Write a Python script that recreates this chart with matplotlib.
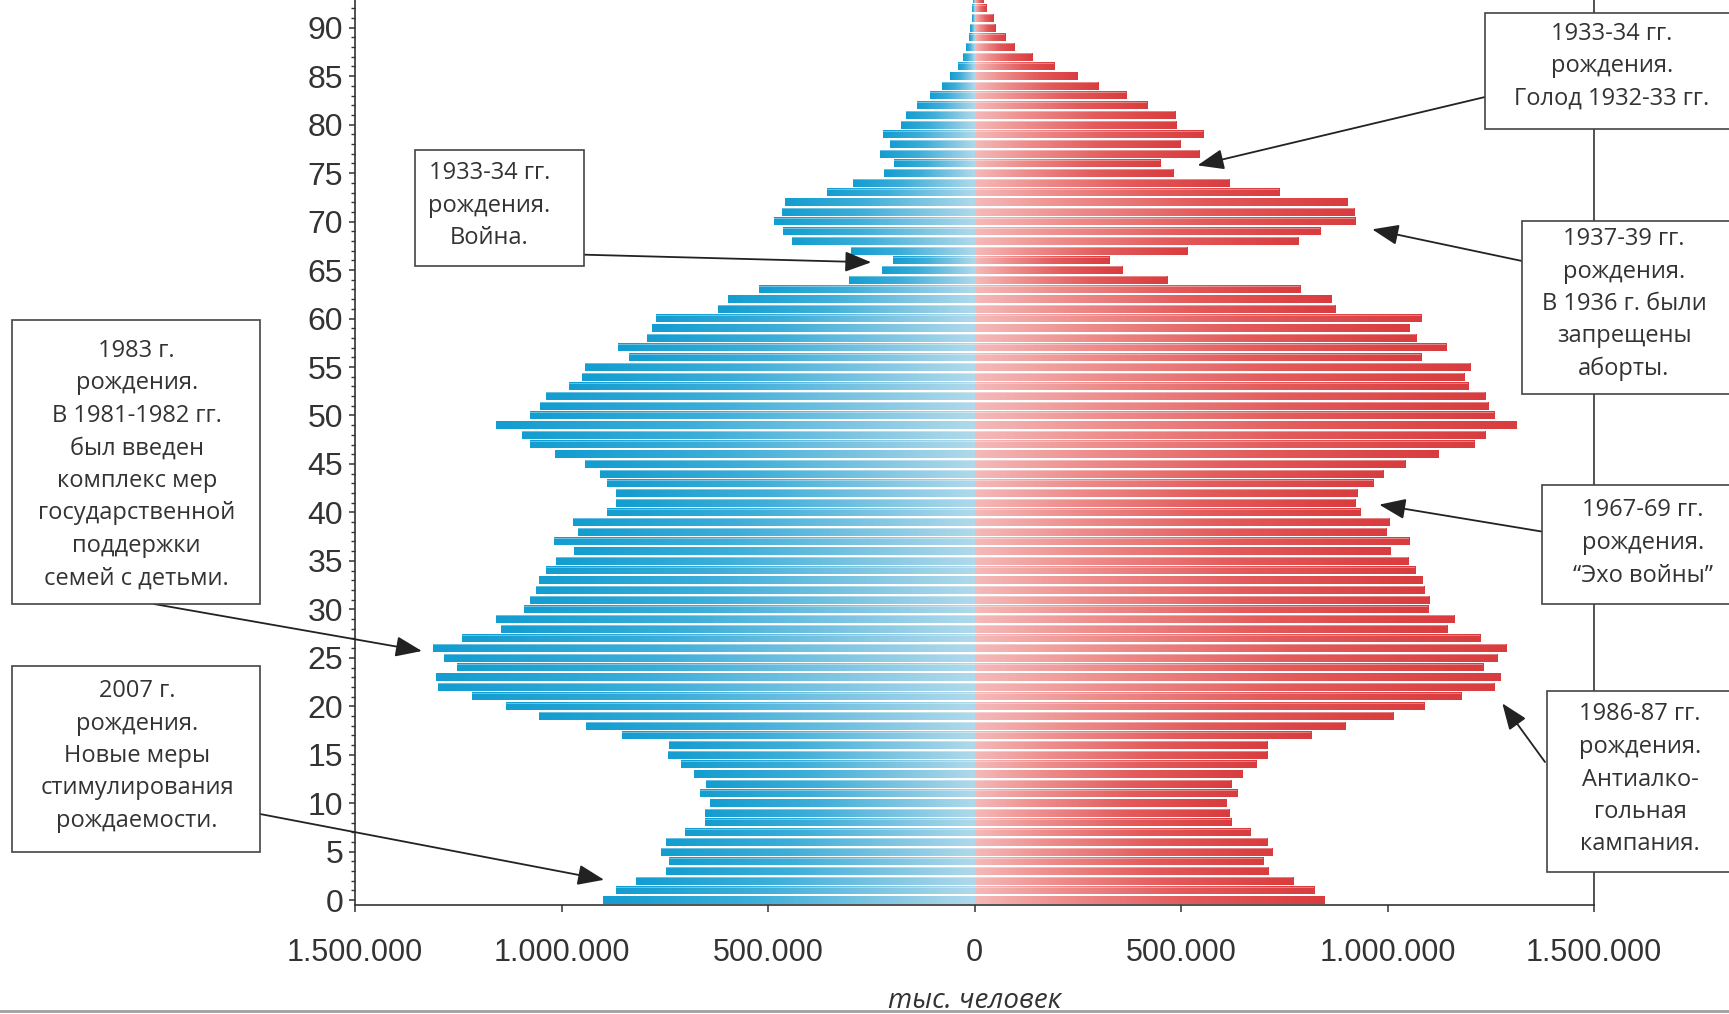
import numpy as np
import matplotlib
matplotlib.use('Agg')
import matplotlib.pyplot as plt
from matplotlib.colors import LinearSegmentedColormap
from matplotlib.patches import Rectangle
from matplotlib.lines import Line2D
from matplotlib.ticker import FixedLocator, MultipleLocator

# возраст 0..93
ages = np.arange(94)

# мужчины (левая сторона), тыс. человек
male_k = [900, 869, 819, 748, 740, 759, 748, 702, 653, 653,
          640, 664, 651, 680, 711, 742, 740, 853, 940, 1055,
          1134, 1217, 1299, 1304, 1253, 1285, 1312, 1242, 1147, 1158,
          1091, 1077, 1062, 1055, 1037, 1013, 970, 1018, 961, 972,
          889, 869, 867, 889, 907, 943, 1015, 1077, 1096, 1159,
          1077, 1053, 1037, 983, 950, 942, 837, 862, 794, 780,
          772, 621, 597, 521, 305, 225, 198, 299, 443, 464,
          486, 467, 459, 356, 294, 218, 194, 229, 205, 221,
          178, 167, 140, 108, 78, 59, 40, 28, 20, 14,
          10, 7, 5, 3]

# женщины (правая сторона), тыс. человек
female_k = [847, 823, 772, 710, 699, 720, 708, 668, 621, 616,
            610, 635, 621, 647, 681, 708, 708, 815, 896, 1014,
            1089, 1178, 1259, 1272, 1231, 1265, 1286, 1224, 1145, 1161,
            1098, 1101, 1089, 1083, 1066, 1049, 1006, 1052, 997, 1003,
            933, 922, 927, 966, 988, 1043, 1122, 1210, 1237, 1311,
            1257, 1243, 1237, 1195, 1185, 1199, 1080, 1141, 1070, 1052,
            1081, 873, 864, 789, 465, 356, 325, 515, 783, 837,
            922, 918, 902, 737, 616, 480, 448, 544, 498, 554,
            489, 486, 417, 367, 298, 249, 192, 140, 96, 73,
            50, 44, 27, 21]

xtick_vals = [-1500000, -1000000, -500000, 0, 500000, 1000000, 1500000]
xtick_labels = ['1.500.000', '1.000.000', '500.000', '0', '500.000', '1.000.000', '1.500.000']
ytick_vals = list(range(0, 91, 5))
xlabel = 'тыс. человек'

note_texts = [
    '1933-34 гг.\nрождения.\nГолод 1932-33 гг.',
    '1937-39 гг.\nрождения.\nВ 1936 г. были\nзапрещены\nаборты.',
    '1967-69 гг.\nрождения.\n“Эхо войны”',
    '1986-87 гг.\nрождения.\nАнтиалко-\nгольная\nкампания.',
    '1933-34 гг.\nрождения.\nВойна.',
    '1983 г.\nрождения.\nВ 1981-1982 гг.\nбыл введен\nкомплекс мер\nгосударственной\nподдержки\nсемей с детьми.',
    '2007 г.\nрождения.\nНовые меры\nстимулирования\nрождаемости.',
]

# layout (пиксели картинки 1729x1014)
W, H = 1729, 1014
# box: x0, y0, x1, y1, центр текста x, y первой строки
boxes = [
    (1485, 13, 1760, 129, 1612, 33.5),
    (1522, 220.5, 1760, 393.7, 1624, 239),
    (1541.6, 485, 1760, 604, 1643, 510.5),
    (1547, 691, 1760, 872, 1640, 714.5),
    (414.6, 150, 584.4, 265.7, 489.6, 173),
    (12, 320, 260, 604, 136.7, 350.7),
    (12, 666, 260, 852, 137, 691),
]
# хвост стрелки (пиксели), острие (данные)
arrows = [
    ((1485, 97), (540e3, 75.8)),
    ((1522, 261), (963e3, 69.2)),
    ((1541.6, 531.5), (980e3, 40.8)),
    ((1545, 762), (1278e3, 20.3)),
    ((584.4, 254.7), (-250e3, 65.8)),
    ((154, 604), (-1338e3, 25.7)),
    ((260, 814), (-897e3, 2.1)),
]
line_pitch = 32.5


def fx(px):
    return px / W


def fy(py):
    return 1 - py / H


plt.rcParams['font.family'] = ['Liberation Sans', 'DejaVu Sans']

fig = plt.figure(figsize=(W / 100, H / 100), dpi=100)
ax = fig.add_axes([fx(355), fy(905), (1594 - 355) / W, 905 / H])

blue = LinearSegmentedColormap.from_list(
    'blue', [(0, '#afd9eb'), (0.25, '#80c6e2'), (0.6, '#3caed9'), (1, '#139dd0')])
red = LinearSegmentedColormap.from_list(
    'red', [(0, '#f4b9b8'), (0.25, '#ee8d8c'), (0.6, '#e35b5c'), (1, '#d93c3e')])

male = np.array(male_k) * 1000
female = np.array(female_k) * 1000

bars_m = ax.barh(ages, -male, height=0.8, color='#3daed9', zorder=1)
bars_f = ax.barh(ages, female, height=0.8, color='#e35b5c', zorder=1)

grad = np.linspace(0, 1, 128).reshape(1, -1)
for bars, cmap in [(bars_m, blue), (bars_f, red)]:
    for b in bars:
        x, y, w, h = b.get_x(), b.get_y(), b.get_width(), b.get_height()
        ax.imshow(grad, cmap=cmap, extent=(x, x + w, y, y + h),
                  aspect='auto', interpolation='bilinear', zorder=2)

# светлая кромка сверху каждой полосы
ax.barh(ages + 0.33, -male, height=0.09, color='white', alpha=0.35, zorder=3)
ax.barh(ages + 0.33, female, height=0.09, color='white', alpha=0.35, zorder=3)

ax.set_xlim(-1.5e6, 1.5e6)
ax.set_ylim(-0.5, 92.86)

ax.set_xticks(xtick_vals, xtick_labels)
ax.yaxis.set_major_locator(FixedLocator(ytick_vals))
ax.yaxis.set_minor_locator(MultipleLocator(1))
ax.tick_params(axis='x', direction='out', length=5, width=1.1, pad=19,
               labelsize=22, colors='#333333')
ax.tick_params(axis='y', which='major', direction='out', length=4.5, width=1.1, pad=4,
               labelsize=23, colors='#333333')
ax.tick_params(axis='y', which='minor', direction='out', length=3, width=1.0, colors='#333333')

ax.spines['top'].set_visible(False)
for s in ['left', 'right', 'bottom']:
    ax.spines[s].set_color('#333333')
    ax.spines[s].set_linewidth(1.2)

# стрелки
for (tx, ty), tip in arrows:
    ax.annotate('', xy=tip, xycoords='data',
                xytext=(fx(tx), fy(ty)), textcoords='figure fraction',
                annotation_clip=False,
                arrowprops=dict(arrowstyle='-|>,head_length=0.9,head_width=0.35',
                                color='#222222', lw=1.3, shrinkA=0, shrinkB=0,
                                mutation_scale=18))

# рамки с пояснениями
for (x0, y0, x1, y1, cx, ly), txt in zip(boxes, note_texts):
    fig.add_artist(Rectangle((fx(x0), fy(y1)), fx(x1) - fx(x0), fy(y0) - fy(y1),
                             transform=fig.transFigure, facecolor='white',
                             edgecolor='#444444', lw=1.2, zorder=5))
    for i, line in enumerate(txt.split('\n')):
        fig.text(fx(cx), fy(ly + i * line_pitch), line, ha='center', va='center',
                 fontsize=17, color='#333333', family=['Open Sans', 'DejaVu Sans'],
                 zorder=6)

fig.text(fx(974), fy(1001), xlabel, ha='center', va='center', style='italic',
         fontsize=20, color='#333333', family=['Open Sans', 'DejaVu Sans'])

fig.add_artist(Line2D([0, 1], [fy(1011), fy(1011)], transform=fig.transFigure,
                      color='#a0a0a0', lw=2))

fig.savefig('out.png', dpi=100)
